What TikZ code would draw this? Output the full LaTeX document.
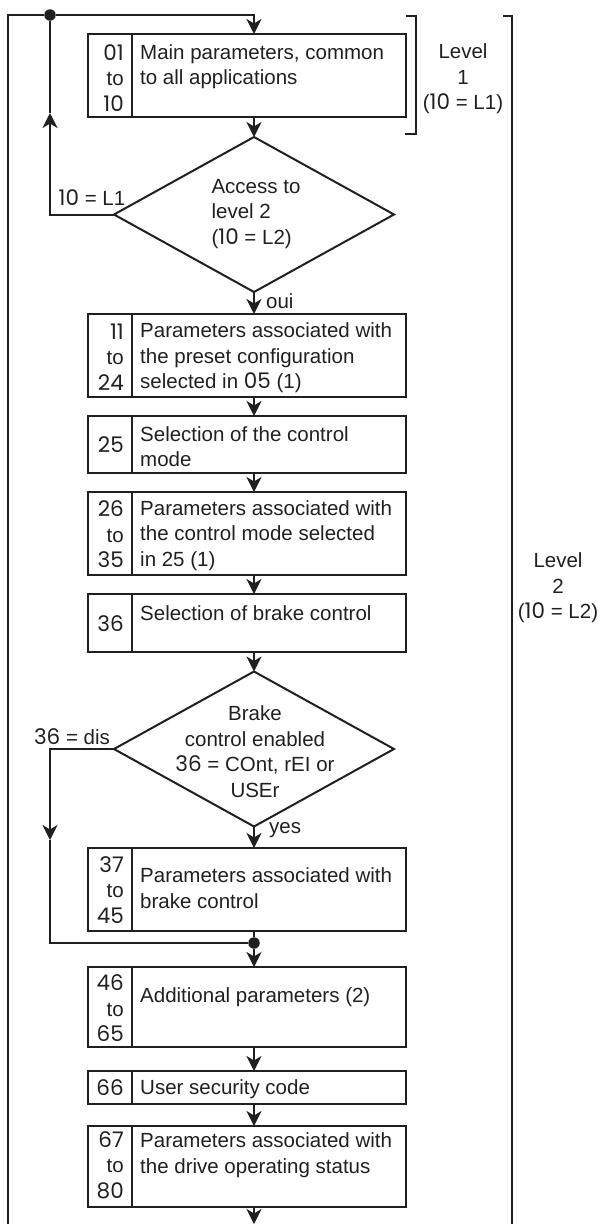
\documentclass[tikz,border=0pt]{standalone}
\usepackage{fontspec}
\setmainfont{Liberation Sans}
\newfontfamily\numfont{Poppins}
\usetikzlibrary{shapes.geometric,arrows.meta}
\definecolor{ink}{RGB}{35,31,32}
\newcommand{\fs}{\fontsize{20.5}{25.5}\selectfont}
\newcommand{\nm}[1]{{\numfont\fontsize{21.5}{25.5}\selectfont #1}}
\tikzset{
  ln/.style={line width=2pt},
  cell/.style={draw, line width=2pt, inner sep=0pt, outer sep=0pt},
  arr/.style={line width=2pt, -{Stealth[length=15pt,width=15pt,inset=4.5pt]}},
  txt/.style={inner sep=0pt, font=\fs, align=left},
  num/.style={inner sep=0pt, font=\fs, align=right},
  dia/.style={draw, diamond, line width=2pt, inner sep=0pt, outer sep=0pt, minimum width=280pt, minimum height=155pt},
  dot/.style={circle, fill, inner sep=0pt, minimum size=11.5pt},
}
\begin{document}
\begin{tikzpicture}[x=1pt, y=-1pt, color=ink]
\useasboundingbox (0,0) rectangle (604,1224);
\coordinate (axis) at (254,0);

% box 1
\node[cell, minimum width=44pt, minimum height=83pt] (n1) at (110,75.5) {};
\node[cell, minimum width=274pt, minimum height=83pt] (t1) at (269,75.5) {};
\node[num, anchor=east] (n1l) at (124,78) {\nm{01}\\to\\\nm{10}};
\node[txt, anchor=west] (t1l) at (140,66.5) {Main parameters, common\\to all applications};

% diamond 1
\node[dia] (d1) at (254,214.5) {};
\node[txt] (d1l) at (256,214) {Access to\\level 2\\(\nm{10} = L2)};

% box 2
\node[cell, minimum width=44pt, minimum height=83pt] (n2) at (110,355.5) {};
\node[cell, minimum width=274pt, minimum height=83pt] (t2) at (269,355.5) {};
\node[num, anchor=east] (n2l) at (124,357) {\nm{11}\\to\\\nm{24}};
\node[txt, anchor=west] (t2l) at (140,358) {Parameters associated with\\the preset configuration\\selected in \nm{05} (1)};

% box 3
\node[cell, minimum width=44pt, minimum height=57pt] (n3) at (110,444.5) {};
\node[cell, minimum width=274pt, minimum height=57pt] (t3) at (269,444.5) {};
\node[num, anchor=east] (n3l) at (124,445) {\nm{25}};
\node[txt, anchor=west] (t3l) at (140,446.5) {Selection of the control\\mode};

% box 4
\node[cell, minimum width=44pt, minimum height=83pt] (n4) at (110,533.5) {};
\node[cell, minimum width=274pt, minimum height=83pt] (t4) at (269,533.5) {};
\node[num, anchor=east] (n4l) at (124,534.5) {\nm{26}\\to\\\nm{35}};
\node[txt, anchor=west] (t4l) at (140,535.5) {Parameters associated with\\the control mode selected\\in 25 (1)};

% box 5
\node[cell, minimum width=44pt, minimum height=58pt] (n5) at (110,623) {};
\node[cell, minimum width=274pt, minimum height=58pt] (t5) at (269,623) {};
\node[num, anchor=east] (n5l) at (124,624) {\nm{36}};
\node[txt, anchor=west] (t5l) at (140,613) {Selection of brake control};

% diamond 2
\node[dia] (d2) at (254,749) {};
\node[txt, align=center] (d2l) at (255,751.5) {Brake\\control enabled\\\nm{36} = COnt, rEI or\\USEr};

% box 6
\node[cell, minimum width=44pt, minimum height=83pt] (n6) at (110,889.5) {};
\node[cell, minimum width=274pt, minimum height=83pt] (t6) at (269,889.5) {};
\node[num, anchor=east] (n6l) at (124,890) {\nm{37}\\to\\\nm{45}};
\node[txt, anchor=west] (t6l) at (140,888) {Parameters associated with\\brake control};

% box 7
\node[cell, minimum width=44pt, minimum height=80pt] (n7) at (110,1007) {};
\node[cell, minimum width=274pt, minimum height=80pt] (t7) at (269,1007) {};
\node[num, anchor=east] (n7l) at (124,1008.5) {\nm{46}\\to\\\nm{65}};
\node[txt, anchor=west] (t7l) at (140,997) {Additional parameters (2)};

% box 8
\node[cell, minimum width=44pt, minimum height=33pt] (n8) at (110,1087.5) {};
\node[cell, minimum width=274pt, minimum height=33pt] (t8) at (269,1087.5) {};
\node[num, anchor=east] (n8l) at (124,1088) {\nm{66}};
\node[txt, anchor=west] (t8l) at (140,1089.5) {User security code};

% box 9
\node[cell, minimum width=44pt, minimum height=81pt] (n9) at (110,1166.5) {};
\node[cell, minimum width=274pt, minimum height=81pt] (t9) at (269,1166.5) {};
\node[num, anchor=east] (n9l) at (124,1165) {\nm{67}\\to\\\nm{80}};
\node[txt, anchor=west] (t9l) at (140,1155) {Parameters associated with\\the drive operating status};

% labels
\node[txt] (l10) at (92,198) {\nm{10} = L1};
\node[txt, anchor=west] (oui) at (266,301) {oui};
\node[txt] (dis) at (72,737) {\nm{36} = dis};
\node[txt, anchor=west] (yes) at (269,830) {yes};
\node[txt, align=center] (lv1) at (463,79) {Level\\1\\(\nm{10} = L1)};
\node[txt, align=center] (lv2) at (558,588) {Level\\2\\(\nm{10} = L2)};

% outer loop
\coordinate (tl) at (8,15);
\coordinate (bl) at (8,1224);
\coordinate (tr) at (254,15);
\node[dot] (j1) at (50,15) {};
\draw[ln] (bl) -- (tl) -- (j1);
\draw[arr] (j1) -- (tr) -- (t1.north -| axis);

% L1 return
\coordinate (r1) at (50,214.5);
\coordinate (m1) at (50,113);
\draw[arr] (d1.west) -- (r1) -- (m1);
\draw[ln] (m1) -- (j1);

% main flow
\draw[arr] (t1.south -| axis) -- (d1.north);
\draw[arr] (d1.south) -- (t2.north -| axis);
\draw[arr] (t2.south -| axis) -- (t3.north -| axis);
\draw[arr] (t3.south -| axis) -- (t4.north -| axis);
\draw[arr] (t4.south -| axis) -- (t5.north -| axis);
\draw[arr] (t5.south -| axis) -- (d2.north);
\draw[arr] (d2.south) -- (t6.north -| axis);
\node[dot] (j2) at (254,943) {};
\draw[ln] (t6.south -| axis) -- (j2);
\draw[arr] (j2) -- (t7.north -| axis);
\coordinate (r2) at (50,749);
\coordinate (m2) at (50,840);
\coordinate (r3) at (50,943);
\draw[arr] (d2.west) -- (r2) -- (m2);
\draw[ln] (m2) -- (r3) -- (j2);
\draw[arr] (t7.south -| axis) -- (t8.north -| axis);
\draw[arr] (t8.south -| axis) -- (t9.north -| axis);
\coordinate (bot) at (254,1224);
\draw[arr] (t9.south -| axis) -- (bot);

% brackets
\coordinate (ba) at (406,16);
\coordinate (bb) at (416,16);
\coordinate (bc) at (416,134);
\coordinate (bd) at (405,134);
\draw[ln] (ba) -- (bb) -- (bc) -- (bd);
\coordinate (ca) at (503,16);
\coordinate (cb) at (512,16);
\coordinate (cc) at (512,1224);
\draw[ln] (ca) -- (cb) -- (cc);
\end{tikzpicture}
\end{document}
